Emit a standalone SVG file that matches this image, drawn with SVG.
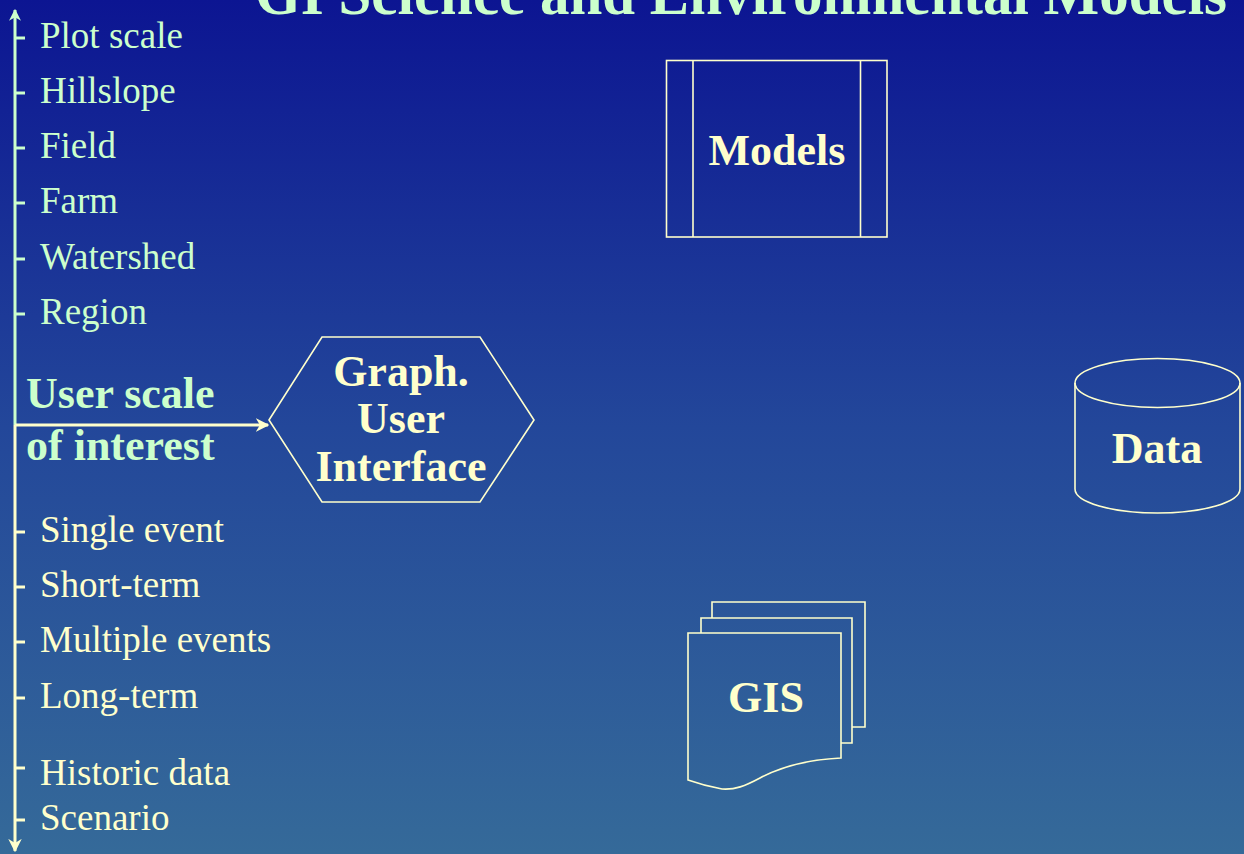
<svg xmlns="http://www.w3.org/2000/svg" width="1244" height="854" viewBox="0 0 1244 854">
  <defs>
    <linearGradient id="bg" x1="0" y1="0" x2="0" y2="1">
      <stop offset="0" stop-color="#0c1592"/>
      <stop offset="0.5" stop-color="#23479a"/>
      <stop offset="1" stop-color="#356a99"/>
    </linearGradient>
    <marker id="headG" viewBox="0 0 10 10" refX="9" refY="5" markerWidth="4" markerHeight="4" orient="auto" markerUnits="strokeWidth">
      <path d="M0,0 L10,5 L0,10 L3,5 Z" fill="#ccffcc"/>
    </marker>
    <marker id="headY" viewBox="0 0 10 10" refX="9" refY="5" markerWidth="4.5" markerHeight="4.5" orient="auto" markerUnits="strokeWidth">
      <path d="M0,0 L10,5 L0,10 L3,5 Z" fill="#ffffcc"/>
    </marker>
    <style>
      .lbl { font-family: "Liberation Serif", "Times New Roman", serif; font-size: 37px; }
      .g { fill: #ccffcc; }
      .y { fill: #ffffcc; }
      .bold { font-family: "Liberation Serif", "Times New Roman", serif; font-size: 44px; font-weight: bold; }
      .mid { text-anchor: middle; }
      .shape { fill: none; stroke: #ffffcc; stroke-width: 1.6; }
      .tickG { stroke: #ccffcc; stroke-width: 3; }
      .tickY { stroke: #ffffcc; stroke-width: 3; }
    </style>
  </defs>

  <rect width="1244" height="854" fill="url(#bg)"/>

  <!-- title, running off the top edge -->
  <text x="255" y="14" class="bold g" style="font-size:62px" textLength="972" lengthAdjust="spacingAndGlyphs">GI Science and Environmental Models</text>

  <!-- scale axis, ticks and arrow to the interface -->
  <g id="connectors">
    <line x1="15" y1="425" x2="15" y2="10" class="tickG" marker-end="url(#headG)"/>
    <line x1="15" y1="425" x2="15" y2="851" class="tickY" marker-end="url(#headY)"/>
    <line x1="15" y1="425" x2="268" y2="425" class="tickY" marker-end="url(#headY)"/>
    <g class="tickG">
      <line x1="15" y1="38" x2="25" y2="38"/>
      <line x1="15" y1="93" x2="25" y2="93"/>
      <line x1="15" y1="148" x2="25" y2="148"/>
      <line x1="15" y1="203" x2="25" y2="203"/>
      <line x1="15" y1="259" x2="25" y2="259"/>
      <line x1="15" y1="314" x2="25" y2="314"/>
    </g>
    <g class="tickY">
      <line x1="15" y1="532" x2="25" y2="532"/>
      <line x1="15" y1="587" x2="25" y2="587"/>
      <line x1="15" y1="642" x2="25" y2="642"/>
      <line x1="15" y1="698" x2="25" y2="698"/>
      <line x1="15" y1="768" x2="25" y2="768"/>
      <line x1="15" y1="820" x2="25" y2="820"/>
    </g>
  </g>

  <g id="space-scales" class="lbl g">
    <text x="40" y="48">Plot scale</text>
    <text x="40" y="103">Hillslope</text>
    <text x="40" y="158">Field</text>
    <text x="40" y="213">Farm</text>
    <text x="40" y="269">Watershed</text>
    <text x="40" y="324">Region</text>
  </g>

  <g id="user-scale" class="bold g">
    <text x="26" y="408">User scale</text>
    <text x="26" y="460">of interest</text>
  </g>

  <g id="time-scales" class="lbl y">
    <text x="40" y="542">Single event</text>
    <text x="40" y="597">Short-term</text>
    <text x="40" y="652">Multiple events</text>
    <text x="40" y="708">Long-term</text>
    <text x="40" y="785">Historic data</text>
    <text x="40" y="830">Scenario</text>
  </g>

  <g id="gui">
    <polygon points="269,420 322,337 480,337 534,420 480,502 322,502" class="shape"/>
    <text x="401" y="386" class="bold y mid">Graph.</text>
    <text x="401" y="433" class="bold y mid">User</text>
    <text x="401" y="481" class="bold y mid">Interface</text>
  </g>

  <g id="models">
    <rect x="666.5" y="60.5" width="220.5" height="176.5" class="shape"/>
    <line x1="693" y1="60.5" x2="693" y2="237" class="shape"/>
    <line x1="860.5" y1="60.5" x2="860.5" y2="237" class="shape"/>
    <text x="777" y="165" class="bold y mid">Models</text>
  </g>

  <g id="data">
    <path d="M1075,383 V489 A82.5,24 0 0 0 1240,489 V383" class="shape"/>
    <ellipse cx="1157.5" cy="383" rx="82.5" ry="24.5" class="shape"/>
    <text x="1157" y="463" class="bold y mid">Data</text>
  </g>

  <g id="gis">
    <path d="M712,618 V602 H865 V727 H852" class="shape"/>
    <path d="M701,633 V618 H852 V743 H841" class="shape"/>
    <path d="M688,633 H841 V758 C800,760 775,770 760,778 C745,786 735,790 722,789 Q705,786 688,780 Z" class="shape"/>
    <text x="766" y="712" class="bold y mid">GIS</text>
  </g>
</svg>
